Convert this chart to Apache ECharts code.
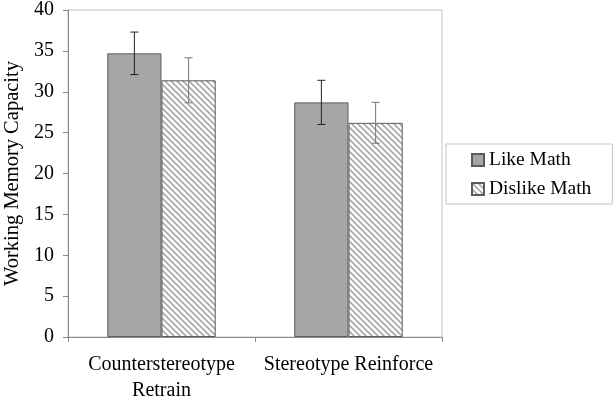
<!DOCTYPE html>
<html>
<head>
<meta charset="utf-8">
<script src="https://cdn.jsdelivr.net/npm/echarts@6/dist/echarts.min.js"></script>
<style>
html,body{margin:0;padding:0;background:#fff;}
#c{width:615px;height:403px;}
</style>
</head>
<body>
<div id="c"></div>
<script>
const categories = ['Counterstereotype\nRetrain', 'Stereotype Reinforce'];
const seriesNames = ['Like Math', 'Dislike Math'];
const likeMath = [34.7, 28.7];
const dislikeMath = [31.4, 26.2];
const likeErr = [2.6, 2.7];
const dislikeErr = [2.75, 2.5];
const yTicks = {min: 0, max: 40, interval: 5};

const FONT = '"Liberation Serif", "Times New Roman", serif';

function hatch() {
  const s = 6;
  const cv = document.createElement('canvas');
  cv.width = s; cv.height = s;
  const g = cv.getContext('2d');
  g.fillStyle = '#ffffff';
  g.fillRect(0, 0, s, s);
  g.strokeStyle = '#a8a8a8';
  g.lineWidth = 1.6;
  g.beginPath();
  g.moveTo(-1, -1); g.lineTo(s + 1, s + 1);
  g.moveTo(-1, s - 1); g.lineTo(1, s + 1);
  g.moveTo(s - 1, -1); g.lineTo(s + 1, 1);
  g.stroke();
  return cv;
}

const GAP = 0.42;
function errSeries(vals, errs, side, color) {
  return {
    type: 'custom',
    z: 10,
    silent: true,
    data: vals.map((v, i) => [i, v, errs[i]]),
    encode: {x: 0, y: 1},
    renderItem: function (params, api) {
      const ci = api.value(0), v = api.value(1), e = api.value(2);
      const band = api.size([1, 0])[0];
      const bw = band * (1 - GAP) / 2;
      const cx = api.coord([ci, 0])[0] + side * bw / 2;
      const yt = api.coord([ci, v + e])[1];
      const yb = api.coord([ci, v - e])[1];
      const cap = 4;
      const st = {stroke: color, lineWidth: 1};
      return {
        type: 'group',
        children: [
          {type: 'line', shape: {x1: cx, y1: yt, x2: cx, y2: yb}, style: st},
          {type: 'line', shape: {x1: cx - cap, y1: yt, x2: cx + cap, y2: yt}, style: st},
          {type: 'line', shape: {x1: cx - cap, y1: yb, x2: cx + cap, y2: yb}, style: st}
        ]
      };
    }
  };
}

const chart = echarts.init(document.getElementById('c'), null, {renderer: 'canvas'});
const pattern = {image: hatch(), repeat: 'repeat'};
chart.setOption({
  backgroundColor: '#ffffff',
  animation: false,
  grid: {left: 68, right: 173, top: 10, bottom: 66, show: true, borderColor: '#c4c4c4', borderWidth: 1,
         containLabel: false, outerBoundsMode: 'none'},
  legend: {
    data: seriesNames,
    orient: 'vertical',
    left: 446, top: 144,
    padding: [5, 21, 4, 25],
    itemGap: 7,
    itemWidth: 12, itemHeight: 12,
    icon: 'rect',
    borderColor: '#c4c4c4', borderWidth: 1,
    textStyle: {fontFamily: FONT, fontSize: 19.5, color: '#000', lineHeight: 22}
  },
  xAxis: {
    type: 'category',
    data: categories,
    axisLine: {lineStyle: {color: '#8a8a8a'}},
    axisTick: {show: true, length: 5, lineStyle: {color: '#8a8a8a'}},
    axisLabel: {fontFamily: FONT, fontSize: 20, color: '#000', lineHeight: 26, margin: 15, interval: 0}
  },
  yAxis: {
    type: 'value',
    min: yTicks.min, max: yTicks.max, interval: yTicks.interval,
    name: 'Working Memory Capacity',
    nameLocation: 'middle',
    nameGap: 44,
    nameTextStyle: {fontFamily: FONT, fontSize: 20.5, color: '#000'},
    splitLine: {show: false},
    axisLine: {show: true, lineStyle: {color: '#8a8a8a'}},
    axisTick: {show: true, length: 5, lineStyle: {color: '#8a8a8a'}},
    axisLabel: {fontFamily: FONT, fontSize: 20, color: '#000', margin: 14}
  },
  series: [
    {
      name: seriesNames[0], type: 'bar', data: likeMath,
      barGap: '0%', barCategoryGap: (GAP * 100) + '%',
      itemStyle: {color: '#a6a6a6', borderColor: '#5c5c5c', borderWidth: 1}
    },
    {
      name: seriesNames[1], type: 'bar', data: dislikeMath,
      itemStyle: {color: pattern, borderColor: '#5c5c5c', borderWidth: 1}
    },
    errSeries(likeMath, likeErr, -1, '#222'),
    errSeries(dislikeMath, dislikeErr, 1, '#777')
  ]
});
</script>
</body>
</html>
